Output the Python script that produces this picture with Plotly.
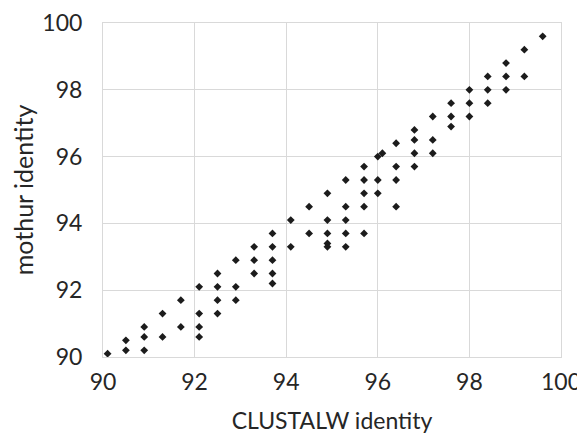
import plotly.graph_objects as go

# CLUSTALW identity (x) and mothur identity (y)
clustalw = [
    90.1,
    90.5, 90.5,
    90.9, 90.9, 90.9,
    91.3, 91.3,
    91.7, 91.7,
    92.1, 92.1, 92.1, 92.1,
    92.5, 92.5, 92.5, 92.5,
    92.9, 92.9, 92.9,
    93.3, 93.3, 93.3,
    93.7, 93.7, 93.7, 93.7, 93.7,
    94.1, 94.1,
    94.5, 94.5,
    94.9, 94.9, 94.9, 94.9, 94.9,
    95.3, 95.3, 95.3, 95.3, 95.3,
    95.7, 95.7, 95.7, 95.7, 95.7,
    96.0, 96.0, 96.0,
    96.1,
    96.4, 96.4, 96.4, 96.4,
    96.8, 96.8, 96.8, 96.8,
    97.2, 97.2, 97.2,
    97.6, 97.6, 97.6,
    98.0, 98.0, 98.0,
    98.4, 98.4, 98.4,
    98.8, 98.8, 98.8,
    99.2, 99.2,
    99.6,
]
mothur = [
    90.1,
    90.5, 90.2,
    90.9, 90.6, 90.2,
    91.3, 90.6,
    91.7, 90.9,
    92.1, 91.3, 90.9, 90.6,
    92.5, 92.1, 91.7, 91.3,
    92.9, 92.1, 91.7,
    93.3, 92.9, 92.5,
    93.7, 93.3, 92.9, 92.5, 92.2,
    94.1, 93.3,
    94.5, 93.7,
    94.9, 94.1, 93.7, 93.4, 93.3,
    95.3, 94.5, 94.1, 93.7, 93.3,
    95.7, 95.3, 94.9, 94.5, 93.7,
    96.0, 95.3, 94.9,
    96.1,
    96.4, 95.7, 95.3, 94.5,
    96.8, 96.5, 96.1, 95.7,
    97.2, 96.5, 96.1,
    97.6, 97.2, 96.9,
    98.0, 97.6, 97.2,
    98.4, 98.0, 97.6,
    98.8, 98.4, 98.0,
    99.2, 98.4,
    99.6,
]
tick_vals = [90, 92, 94, 96, 98, 100]
tick_text = ["90", "92", "94", "96", "98", "100"]

fig = go.Figure(
    go.Scatter(
        x=clustalw,
        y=mothur,
        mode="markers",
        marker=dict(symbol="diamond", size=6, color="#1c1c1c", line=dict(width=0)),
        showlegend=False,
    )
)

axis_common = dict(
    range=[90, 100],
    tickvals=tick_vals,
    ticktext=tick_text,
    showgrid=True,
    gridcolor="#d9d9d9",
    gridwidth=1,
    showline=True,
    linecolor="#d9d9d9",
    linewidth=1,
    mirror=True,
    zeroline=False,
    ticks="",
    automargin=False,
    tickfont=dict(family="Lato, sans-serif", size=23, color="#262626"),
)

# the page body has an 8px default margin, so the margins are offset to compensate
fig.update_layout(
    width=585,
    height=434,
    margin=dict(l=95, r=32, t=15, b=85, pad=0),
    paper_bgcolor="white",
    plot_bgcolor="white",
    xaxis=dict(
        **axis_common,
        ticklabelstandoff=4,
        title=dict(text="CLUSTALW identity", font=dict(family="Lato, sans-serif", size=23, color="#262626"), standoff=19),
    ),
    yaxis=dict(
        **axis_common,
        ticklabelstandoff=15,
        title=dict(text="mothur identity", font=dict(family="Lato, sans-serif", size=25, color="#262626"), standoff=14),
    ),
)

fig.write_html("out.html")
